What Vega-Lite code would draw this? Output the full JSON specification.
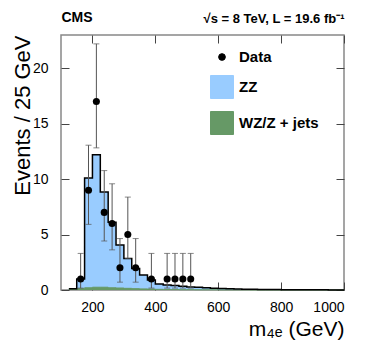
{
  "$schema": "https://vega.github.io/schema/vega-lite/v6.json",
  "width": 283,
  "height": 255,
  "autosize": {"type": "none"},
  "padding": {"left": 61, "top": 35, "right": 30, "bottom": 61},
  "config": {
    "font": "Liberation Sans",
    "view": {"stroke": "#888", "strokeWidth": 1.5},
    "axis": {
      "grid": false,
      "domain": false,
      "tickColor": "#444",
      "tickWidth": 1,
      "labelColor": "black",
      "labelFont": "Liberation Sans",
      "labelFontSize": 14,
      "titleFont": "Liberation Sans",
      "titleFontWeight": "normal",
      "titleColor": "black",
      "titleFontSize": 21
    }
  },
  "datasets": {
    "hist": [
      {"lo": 125, "total": 0.12, "zj": 0.08},
      {"lo": 150, "total": 1.0, "zj": 0.12},
      {"lo": 175, "total": 10.1, "zj": 0.2},
      {"lo": 200, "total": 12.2, "zj": 0.25},
      {"lo": 225, "total": 8.85, "zj": 0.25},
      {"lo": 250, "total": 6.1, "zj": 0.2},
      {"lo": 275, "total": 4.05, "zj": 0.18},
      {"lo": 300, "total": 2.85, "zj": 0.15},
      {"lo": 325, "total": 1.95, "zj": 0.12},
      {"lo": 350, "total": 1.35, "zj": 0.1},
      {"lo": 375, "total": 0.9, "zj": 0.08},
      {"lo": 400, "total": 0.55, "zj": 0.06},
      {"lo": 425, "total": 0.45, "zj": 0.05},
      {"lo": 450, "total": 0.4, "zj": 0.04},
      {"lo": 475, "total": 0.33, "zj": 0.03},
      {"lo": 500, "total": 0.28, "zj": 0.03},
      {"lo": 525, "total": 0.24, "zj": 0.02},
      {"lo": 550, "total": 0.2, "zj": 0.02},
      {"lo": 575, "total": 0.16, "zj": 0.02},
      {"lo": 600, "total": 0.13, "zj": 0.01},
      {"lo": 625, "total": 0.11, "zj": 0.01},
      {"lo": 650, "total": 0.09, "zj": 0.01},
      {"lo": 675, "total": 0.07, "zj": 0.01},
      {"lo": 700, "total": 0.06, "zj": 0.0},
      {"lo": 725, "total": 0.05, "zj": 0.0},
      {"lo": 750, "total": 0.04, "zj": 0.0},
      {"lo": 775, "total": 0.035, "zj": 0.0},
      {"lo": 800, "total": 0.03, "zj": 0.0},
      {"lo": 825, "total": 0.025, "zj": 0.0},
      {"lo": 850, "total": 0.02, "zj": 0.0},
      {"lo": 875, "total": 0.018, "zj": 0.0},
      {"lo": 900, "total": 0.015, "zj": 0.0},
      {"lo": 925, "total": 0.012, "zj": 0.0},
      {"lo": 950, "total": 0.01, "zj": 0.0},
      {"lo": 975, "total": 0.008, "zj": 0.0},
      {"lo": 1000, "total": 0.008, "zj": 0.0}
    ],
    "obs": [
      {"m": 162.5, "n": 1, "lo": 0.173, "hi": 3.3},
      {"m": 187.5, "n": 9, "lo": 5.92, "hi": 13.06},
      {"m": 212.5, "n": 17, "lo": 12.82, "hi": 22.2},
      {"m": 237.5, "n": 7, "lo": 4.42, "hi": 10.77},
      {"m": 262.5, "n": 6, "lo": 3.62, "hi": 9.58},
      {"m": 287.5, "n": 2, "lo": 0.708, "hi": 4.64},
      {"m": 312.5, "n": 5, "lo": 2.84, "hi": 8.38},
      {"m": 337.5, "n": 2, "lo": 0.708, "hi": 4.64},
      {"m": 387.5, "n": 1, "lo": 0.173, "hi": 3.3},
      {"m": 437.5, "n": 1, "lo": 0.173, "hi": 3.3},
      {"m": 462.5, "n": 1, "lo": 0.173, "hi": 3.3},
      {"m": 487.5, "n": 1, "lo": 0.173, "hi": 3.3},
      {"m": 512.5, "n": 1, "lo": 0.173, "hi": 3.3}
    ]
  },
  "resolve": {"axis": {"x": "independent", "y": "independent"}},
  "layer": [
    {
      "data": {"name": "hist"},
      "mark": {"type": "area", "interpolate": "step-after"},
      "encoding": {
        "x": {"field": "lo", "type": "quantitative",
          "scale": {"domain": [100, 1000], "nice": false, "zero": false},
          "axis": {"orient": "bottom", "values": [200, 400, 600, 800, 1000], "format": "d", "tickSize": -8, "labelPadding": 18,
            "title": "m₄ₑ (GeV)", "titleAnchor": "end", "titlePadding": 4}},
        "y": {"field": "total", "type": "quantitative", "stack": null,
          "scale": {"domain": [0, 23], "nice": false},
          "axis": {"orient": "left", "values": [0, 5, 10, 15, 20], "tickSize": -8, "labelPadding": 21,
            "title": "Events / 25 GeV", "titleAnchor": "end", "titleFontSize": 22, "titlePadding": -2}},
        "color": {"datum": "ZZ", "type": "nominal",
          "scale": {"domain": ["Data", "ZZ", "WZ/Z + jets"], "range": ["black", "#99ccff", "#669966"]},
          "legend": {
            "title": null, "orient": "none", "legendX": 149, "legendY": 10,
            "labelFont": "Liberation Sans", "labelFontSize": 15, "labelFontWeight": "bold", "labelColor": "black",
            "labelOffset": 5, "rowPadding": 8, "symbolSize": 529, "symbolType": "square",
            "symbolStrokeColor": "#555", "symbolStrokeWidth": 1,
            "encode": {"symbols": {"update": {
              "shape": {"signal": "datum.value === 'Data' ? 'circle' : 'square'"},
              "size": {"signal": "datum.value === 'Data' ? 45 : 529"},
              "stroke": {"signal": "datum.value === 'Data' ? 'black' : '#555'"},
              "strokeWidth": {"value": 1},
              "opacity": {"value": 1},
              "fillOpacity": {"value": 1}
            }}}
          }}
      }
    },
    {
      "data": {"name": "hist"},
      "mark": {"type": "area", "interpolate": "step-after", "opacity": 1, "line": {"color": "#3d6b35", "strokeWidth": 1}},
      "encoding": {
        "x": {"field": "lo", "type": "quantitative",
          "scale": {"domain": [100, 1000], "nice": false, "zero": false},
          "axis": {"orient": "top", "values": [200, 400, 600, 800, 1000], "tickSize": -8, "labels": false,
            "title": "CMS", "titleAnchor": "start", "titleFontWeight": "bold", "titleFontSize": 14, "titlePadding": 10}},
        "y": {"field": "zj", "type": "quantitative", "stack": null,
          "scale": {"domain": [0, 23], "nice": false},
          "axis": {"orient": "right", "values": [0, 5, 10, 15, 20], "tickSize": -8, "labels": false, "title": null}},
        "color": {"datum": "WZ/Z + jets", "type": "nominal"}
      }
    },
    {
      "data": {"name": "hist"},
      "mark": {"type": "line", "interpolate": "step-after", "color": "black", "strokeWidth": 1.5},
      "encoding": {
        "x": {"field": "lo", "type": "quantitative",
          "scale": {"domain": [100, 1000], "nice": false, "zero": false},
          "axis": {"orient": "top", "ticks": false, "labels": false,
            "title": "√s = 8 TeV, L = 19.6 fb⁻¹", "titleAnchor": "end", "titleFontWeight": "bold", "titleFontSize": 13, "titlePadding": 10}},
        "y": {"field": "total", "type": "quantitative",
          "scale": {"domain": [0, 23], "nice": false}, "axis": null}
      }
    },
    {
      "data": {"name": "obs"},
      "mark": {"type": "errorbar", "ticks": {"size": 6}, "color": "#555", "thickness": 1},
      "encoding": {
        "x": {"field": "m", "type": "quantitative",
          "scale": {"domain": [100, 1000], "nice": false, "zero": false}, "axis": null},
        "y": {"field": "lo", "type": "quantitative",
          "scale": {"domain": [0, 23], "nice": false}, "axis": null},
        "y2": {"field": "hi"}
      }
    },
    {
      "data": {"name": "obs"},
      "mark": {"type": "circle", "size": 50, "opacity": 1},
      "encoding": {
        "x": {"field": "m", "type": "quantitative",
          "scale": {"domain": [100, 1000], "nice": false, "zero": false}, "axis": null},
        "y": {"field": "n", "type": "quantitative",
          "scale": {"domain": [0, 23], "nice": false}, "axis": null},
        "color": {"datum": "Data", "type": "nominal"}
      }
    }
  ]
}
